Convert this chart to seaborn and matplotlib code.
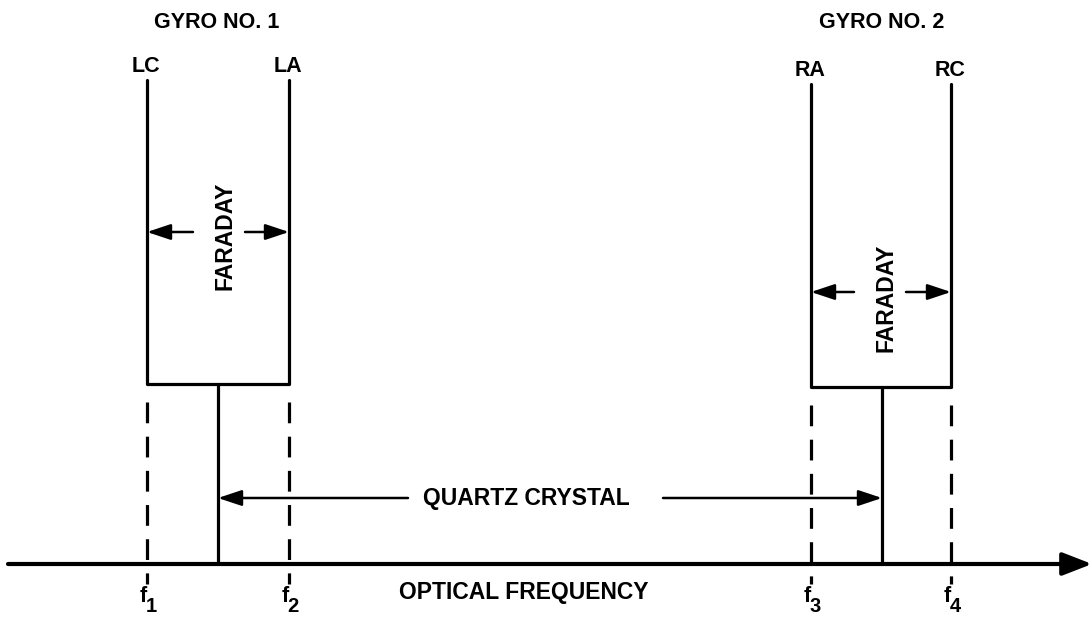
import matplotlib
matplotlib.use("Agg")
import matplotlib.pyplot as plt
import seaborn as sns
import pandas as pd

# ---- data (diagram positions in pixel units of the 1092x621 canvas) ----
freq_names = ["1", "2", "3", "4"]
freq_x = [147, 289, 811, 951]             # f1..f4
line_labels = ["LC", "LA", "RA", "RC"]
gyro_names = ["GYRO NO. 1", "GYRO NO. 2"]
gyro_title_x = [217, 882]
gyro_left = [147, 811]
gyro_right = [289, 951]
gyro_top = [80, 84]
gyro_bottom = [384, 387]
stem_x = [218, 882]
faraday_y = [232, 292]
faraday_text_x = [225, 886]
faraday_text_y = [236, 298]
axis_y = 564
quartz_y = 498

sns.set_theme(style="white")
plt.rcParams["font.family"] = ["Liberation Sans", "DejaVu Sans"]

fig = plt.figure(figsize=(10.92, 6.21), dpi=100)
ax = fig.add_axes([0, 0, 1, 1])

LW = 2.3
K = "black"

# gyro boxes (open top) via seaborn
rows = []
for g in range(2):
    pts = [(gyro_left[g], gyro_top[g]), (gyro_left[g], gyro_bottom[g]),
           (gyro_right[g], gyro_bottom[g]), (gyro_right[g], gyro_top[g])]
    for i, (x, y) in enumerate(pts):
        rows.append({"gyro": g, "order": i, "x": x, "y": y})
df = pd.DataFrame(rows)
sns.lineplot(data=df, x="x", y="y", units="gyro", estimator=None, sort=False,
             color=K, lw=LW, ax=ax, legend=False)
ax.set_xlim(0, 1092)
ax.set_ylim(621, 0)
ax.axis("off")

# stems
for g in range(2):
    ax.plot([stem_x[g], stem_x[g]], [gyro_bottom[g], axis_y], color=K, lw=LW,
            solid_capstyle="butt")

# dashed frequency lines
for i, x in enumerate(freq_x):
    g = 0 if i < 2 else 1
    ax.plot([x, x], [gyro_bottom[g] + 18, axis_y + 20], color=K, lw=LW,
            linestyle=(0, (6.5, 4.2)), dash_capstyle="butt")

# horizontal axis with arrow
ax.annotate("", xy=(1092, axis_y), xytext=(8, axis_y),
            arrowprops=dict(arrowstyle="-|>,head_length=0.9,head_width=0.35",
                            color=K, lw=3.0, shrinkA=0, shrinkB=0,
                            mutation_scale=20))

fs = 15.5
# labels
for g in range(2):
    ax.text(gyro_title_x[g], 23, gyro_names[g], ha="center", va="center",
            fontsize=fs, fontweight="bold", color=K)
for i, x in enumerate(freq_x):
    g = 0 if i < 2 else 1
    ax.text(x - 1, gyro_top[g] - 13, line_labels[i], ha="center", va="center",
            fontsize=fs, fontweight="bold", color=K)
    ax.text(x - 4, 596, "f", ha="center", va="center", fontsize=fs,
            fontweight="bold", color=K)
    ax.text(x + 4, 606, freq_names[i], ha="center", va="center", fontsize=fs - 1,
            fontweight="bold", color=K)

arrow_kw = dict(arrowstyle="-|>,head_length=0.9,head_width=0.3", color=K,
                lw=1.8, shrinkA=0, shrinkB=0, mutation_scale=16)

# faraday arrows and text
for g in range(2):
    cx = faraday_text_x[g]
    y = faraday_y[g]
    ax.annotate("", xy=(gyro_left[g], y), xytext=(cx - 32, y), arrowprops=arrow_kw)
    ax.annotate("", xy=(gyro_right[g], y), xytext=(cx + 20, y), arrowprops=arrow_kw)
    ax.text(cx, faraday_text_y[g], "FARADAY", rotation=90, ha="center",
            va="center", fontsize=16.5, fontweight="bold", color=K)

# quartz crystal arrows
ax.annotate("", xy=(stem_x[0], quartz_y), xytext=(408, quartz_y), arrowprops=arrow_kw)
ax.annotate("", xy=(stem_x[1], quartz_y), xytext=(663, quartz_y), arrowprops=arrow_kw)
ax.text(526, quartz_y, "QUARTZ CRYSTAL", ha="center", va="center", fontsize=16.5,
        fontweight="bold", color=K)
ax.text(524, 592, "OPTICAL FREQUENCY", ha="center", va="center", fontsize=16.5,
        fontweight="bold", color=K)

fig.savefig("out.png", dpi=100, facecolor="white")
